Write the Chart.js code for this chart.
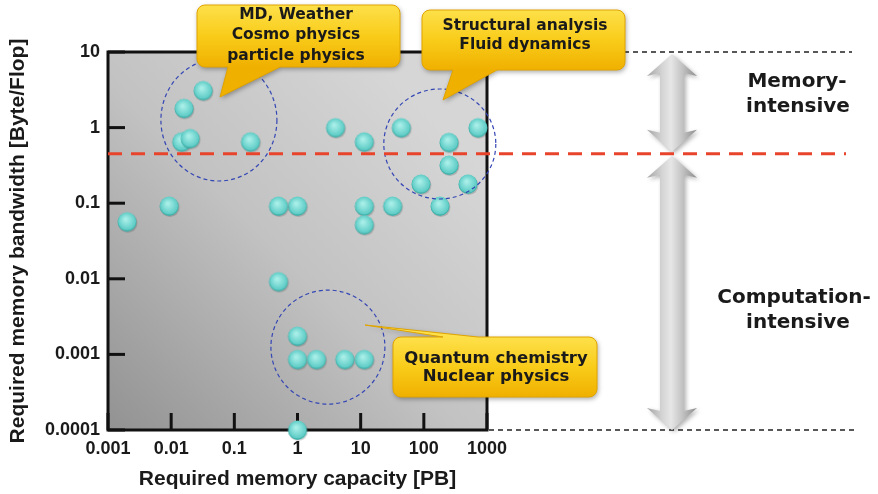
<!DOCTYPE html>
<html><head><meta charset="utf-8">
<script src="https://cdn.jsdelivr.net/npm/chart.js@4.4.1/dist/chart.umd.min.js"></script>
<style>html,body{margin:0;padding:0;background:#fff;}canvas{display:block;}</style>
</head><body>
<canvas id="c" width="878" height="494"></canvas>
<script>
// ---- data ----
const capacityPB = [0.032, 0.016, 0.0147, 0.02, 0.18, 4.0, 11.4, 44, 720, 250, 250, 90, 500, 180, 32, 11.4, 11.4, 1.0, 0.5, 0.0093, 0.002, 0.5, 1.0, 1.0, 2.0, 5.6, 11.4, 1.0];
const bandwidthBF = [3.1, 1.8, 0.65, 0.72, 0.65, 1.0, 0.65, 1.0, 1.0, 0.64, 0.32, 0.18, 0.18, 0.092, 0.092, 0.092, 0.052, 0.092, 0.092, 0.092, 0.057, 0.0092, 0.00175, 0.00086, 0.00086, 0.00086, 0.00086, 0.0001];
const xTickValues = [0.001, 0.01, 0.1, 1, 10, 100, 1000];
const xTickLabels = ['0.001', '0.01', '0.1', '1', '10', '100', '1000'];
const yTickValues = [0.0001, 0.001, 0.01, 0.1, 1, 10];
const yTickLabels = ['0.0001', '0.001', '0.01', '0.1', '1', '10'];
const thresholdBF = 0.45;
const groupCenters = [[0.057, 1.26], [179, 0.607], [3.03, 0.00125]];
const calloutTexts = [['MD, Weather', 'Cosmo physics', 'particle physics'], ['Structural analysis', 'Fluid dynamics'], ['Quantum chemistry', 'Nuclear physics']];
const regionLabels = [['Memory-', 'intensive'], ['Computation-', 'intensive']];
const xTitle = 'Required memory capacity [PB]';
const yTitle = 'Required memory bandwidth [Byte/Flop]';

const points = capacityPB.map((x, i) => ({x: x, y: bandwidthBF[i]}));

function makeBead() {
  const c = document.createElement('canvas'); c.width = 24; c.height = 24;
  const g = c.getContext('2d');
  g.fillStyle = 'rgba(0,0,0,0.16)';
  g.beginPath(); g.arc(12.8, 13.4, 9.6, 0, 2 * Math.PI); g.fill();
  g.fillStyle = '#3fb0aa';
  g.beginPath(); g.arc(12, 12.4, 9.5, 0, 2 * Math.PI); g.fill();
  const rg = g.createRadialGradient(10.5, 9.5, 1, 12, 11.5, 9.5);
  rg.addColorStop(0, '#a8eee8'); rg.addColorStop(0.55, '#7cdad4'); rg.addColorStop(1, '#58c8c2');
  g.fillStyle = rg;
  g.beginPath(); g.arc(12, 11.6, 9.0, 0, 2 * Math.PI); g.fill();
  return c;
}
const bead = makeBead();

function calloutPath(ctx, x, y, w, h, r, side, b1, b2, tx, ty) {
  ctx.beginPath();
  ctx.moveTo(x + r, y);
  if (side === 'top') { ctx.lineTo(b1, y); ctx.lineTo(tx, ty); ctx.lineTo(b2, y); }
  ctx.lineTo(x + w - r, y); ctx.arcTo(x + w, y, x + w, y + r, r);
  ctx.lineTo(x + w, y + h - r); ctx.arcTo(x + w, y + h, x + w - r, y + h, r);
  if (side === 'bottom') { ctx.lineTo(b2, y + h); ctx.lineTo(tx, ty); ctx.lineTo(b1, y + h); }
  ctx.lineTo(x + r, y + h); ctx.arcTo(x, y + h, x, y + h - r, r);
  ctx.lineTo(x, y + r); ctx.arcTo(x, y, x + r, y, r);
  ctx.closePath();
}
function drawCallout(ctx, cfg, lines) {
  ctx.save();
  calloutPath(ctx, cfg.x, cfg.y, cfg.w, cfg.h, 8, cfg.side, cfg.b1, cfg.b2, cfg.tx, cfg.ty);
  const g = ctx.createLinearGradient(0, cfg.y, 0, cfg.y + cfg.h);
  g.addColorStop(0, '#fde04a'); g.addColorStop(0.5, '#f9cc1a'); g.addColorStop(1, '#f0b000');
  ctx.shadowColor = 'rgba(0,0,0,0.35)'; ctx.shadowBlur = 5; ctx.shadowOffsetX = 1; ctx.shadowOffsetY = 2;
  ctx.fillStyle = g; ctx.fill();
  ctx.shadowColor = 'transparent';
  ctx.strokeStyle = '#e0a400'; ctx.lineWidth = 1; ctx.stroke();
  ctx.fillStyle = '#1a1a1a';
  ctx.font = 'bold ' + cfg.fs + 'px "DejaVu Sans"';
  ctx.textAlign = 'center'; ctx.textBaseline = 'middle';
  lines.forEach((t, i) => ctx.fillText(t, cfg.cx, cfg.ty0 + i * cfg.gap));
  ctx.restore();
}
function dblArrow(ctx, cx, y1, y2) {
  const sh = 12, hh = 25, hl = 22;
  ctx.save();
  ctx.beginPath();
  ctx.moveTo(cx, y1);
  ctx.lineTo(cx + hh, y1 + hl); ctx.lineTo(cx + sh, y1 + hl - 3);
  ctx.lineTo(cx + sh, y2 - hl + 3); ctx.lineTo(cx + hh, y2 - hl);
  ctx.lineTo(cx, y2);
  ctx.lineTo(cx - hh, y2 - hl); ctx.lineTo(cx - sh, y2 - hl + 3);
  ctx.lineTo(cx - sh, y1 + hl - 3); ctx.lineTo(cx - hh, y1 + hl);
  ctx.closePath();
  const g = ctx.createLinearGradient(cx - hh, 0, cx + hh, 0);
  g.addColorStop(0, '#a4a4a4'); g.addColorStop(0.3, '#d4d4d4'); g.addColorStop(0.48, '#e6e6e6');
  g.addColorStop(0.7, '#c4c4c4'); g.addColorStop(1, '#8c8c8c');
  ctx.shadowColor = 'rgba(0,0,0,0.3)'; ctx.shadowBlur = 4; ctx.shadowOffsetX = 2; ctx.shadowOffsetY = 2;
  ctx.fillStyle = g; ctx.fill();
  ctx.restore();
}

const decor = {
  id: 'decor',
  beforeDatasetsDraw(chart) {
    const {ctx, chartArea: a, scales: {x, y}} = chart;
    ctx.save();
    const g = ctx.createLinearGradient(a.left, a.bottom, a.right - 60, a.top + 60);
    g.addColorStop(0, '#929292'); g.addColorStop(0.55, '#c2c2c2'); g.addColorStop(1, '#d6d6d6');
    ctx.fillStyle = g;
    ctx.fillRect(a.left, a.top, a.right - a.left, a.bottom - a.top);
    // inner ticks
    ctx.strokeStyle = '#111'; ctx.lineWidth = 3;
    xTickValues.forEach(v => { const px = x.getPixelForValue(v); ctx.beginPath(); ctx.moveTo(px, a.bottom); ctx.lineTo(px, a.bottom - 17); ctx.stroke(); });
    yTickValues.forEach(v => { const py = y.getPixelForValue(v); ctx.beginPath(); ctx.moveTo(a.left, py); ctx.lineTo(a.left + 17, py); ctx.stroke(); });
    ctx.strokeRect(a.left, a.top, a.right - a.left, a.bottom - a.top);
    // black dashed guides
    ctx.setLineDash([5, 4]); ctx.lineWidth = 1.4; ctx.strokeStyle = '#222';
    const yTop = y.getPixelForValue(yTickValues[yTickValues.length - 1]);
    const yBot = y.getPixelForValue(yTickValues[0]);
    ctx.beginPath(); ctx.moveTo(a.right + 2, yTop); ctx.lineTo(852, yTop); ctx.stroke();
    ctx.beginPath(); ctx.moveTo(a.right + 2, yBot); ctx.lineTo(855, yBot); ctx.stroke();
    ctx.restore();
  },
  afterDatasetsDraw(chart) {
    const {ctx, chartArea: a, scales: {x, y}} = chart;
    ctx.save();
    // dashed group circles
    const radii = [[58, 61], [56, 55], [57, 57]];
    ctx.strokeStyle = '#3446b4'; ctx.lineWidth = 1.2; ctx.setLineDash([4, 3]);
    groupCenters.forEach((c, i) => {
      ctx.beginPath();
      ctx.ellipse(x.getPixelForValue(c[0]), y.getPixelForValue(c[1]), radii[i][0], radii[i][1], 0, 0, 2 * Math.PI);
      ctx.stroke();
    });
    const yTh = y.getPixelForValue(thresholdBF);
    const yTop = y.getPixelForValue(yTickValues[yTickValues.length - 1]);
    const yBot = y.getPixelForValue(yTickValues[0]);
    ctx.setLineDash([]);
    // arrows
    dblArrow(ctx, 672, yTop + 2, yTh - 2);
    dblArrow(ctx, 672, yTh + 2, yBot);
    // red threshold line
    ctx.strokeStyle = '#e8442c'; ctx.lineWidth = 3; ctx.setLineDash([14, 9]);
    ctx.beginPath(); ctx.moveTo(a.left, yTh); ctx.lineTo(846, yTh); ctx.stroke();
    ctx.setLineDash([]);
    // region labels
    ctx.fillStyle = '#1a1a1a'; ctx.font = 'bold 20px "DejaVu Sans"';
    ctx.textAlign = 'center'; ctx.textBaseline = 'middle';
    ctx.fillText(regionLabels[0][0], 797, 82);
    ctx.fillText(regionLabels[0][1], 798, 107);
    ctx.fillText(regionLabels[1][0], 794, 298);
    ctx.fillText(regionLabels[1][1], 798, 323);
    ctx.restore();
    // callouts
    drawCallout(ctx, {x: 197, y: 5, w: 203, h: 62, side: 'bottom', b1: 228, b2: 280, tx: 220, ty: 97, fs: 15.5, cx: 296, ty0: 14.5, gap: 20.8}, calloutTexts[0]);
    drawCallout(ctx, {x: 422, y: 10, w: 203, h: 60, side: 'bottom', b1: 453, b2: 497, tx: 443, ty: 100, fs: 15.5, cx: 525, ty0: 25.5, gap: 19}, calloutTexts[1]);
    drawCallout(ctx, {x: 393, y: 337, w: 204, h: 60, side: 'top', b1: 443, b2: 478, tx: 365, ty: 325, fs: 16.5, cx: 496, ty0: 358.5, gap: 18.3}, calloutTexts[2]);
  }
};

const tickFont = {family: '"Liberation Sans", Arial, sans-serif', size: 18, weight: 'bold'};
const titleFont = {family: '"Liberation Sans", Arial, sans-serif', size: 21, weight: 'bold'};

new Chart(document.getElementById('c'), {
  type: 'scatter',
  data: {datasets: [{data: points, pointStyle: bead, pointRadius: 10, clip: false}]},
  options: {
    responsive: false, animation: false,
    layout: {padding: {top: 52, right: 391, left: 0, bottom: 0}},
    plugins: {legend: {display: false}, tooltip: {enabled: false}},
    scales: {
      x: {
        type: 'logarithmic', min: xTickValues[0], max: xTickValues[xTickValues.length - 1],
        afterBuildTicks: s => { s.ticks = xTickValues.map(v => ({value: v})); },
        afterFit: s => { s.height = 64; },
        ticks: {callback: (v, i) => xTickLabels[i], font: tickFont, color: '#1a1a1a', padding: 8, maxRotation: 0, autoSkip: false},
        grid: {display: false, drawTicks: false}, border: {display: false},
        title: {display: true, text: xTitle, font: titleFont, color: '#1a1a1a', padding: {top: 0, bottom: 2}}
      },
      y: {
        type: 'logarithmic', min: yTickValues[0], max: yTickValues[yTickValues.length - 1],
        afterBuildTicks: s => { s.ticks = yTickValues.map(v => ({value: v})); },
        afterFit: s => { s.width = 108; },
        ticks: {callback: (v, i) => yTickLabels[i], font: tickFont, color: '#1a1a1a', padding: 8, autoSkip: false},
        grid: {display: false, drawTicks: false}, border: {display: false},
        title: {display: true, text: yTitle, font: titleFont, color: '#1a1a1a', padding: {top: 6, bottom: 0}}
      }
    }
  },
  plugins: [decor]
});
</script>
</body></html>
